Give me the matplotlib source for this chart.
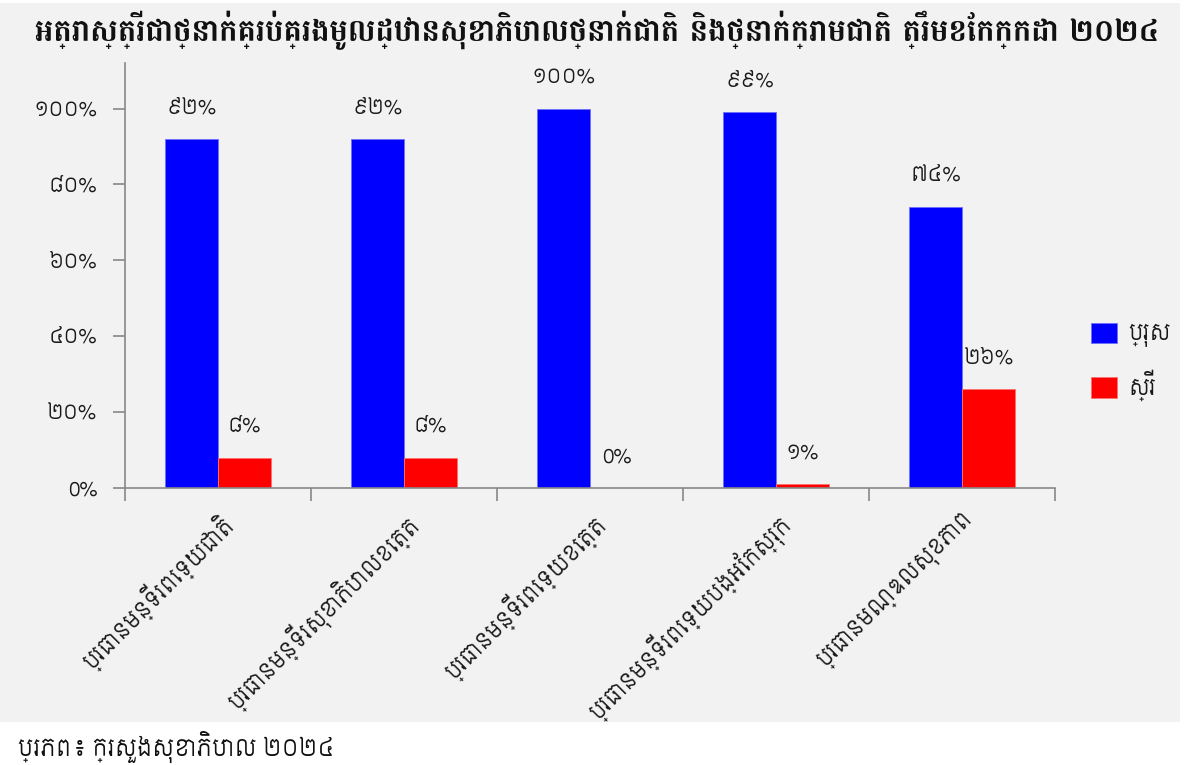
import matplotlib
matplotlib.use("Agg")
import matplotlib.pyplot as plt

# --- data -------------------------------------------------------------
title = "អត្រាស្ត្រីជាថ្នាក់គ្រប់គ្រងមូលដ្ឋានសុខាភិបាលថ្នាក់ជាតិ និងថ្នាក់ក្រោមជាតិ ត្រឹមខែកក្កដា ២០២៤"
categories = [
    "ប្រធានមន្ទីរពេទ្យជាតិ",
    "ប្រធានមន្ទីរសុខាភិបាលខេត្ត",
    "ប្រធានមន្ទីរពេទ្យខេត្ត",
    "ប្រធានមន្ទីរពេទ្យបង្អែកស្រុក",
    "ប្រធានមណ្ឌលសុខភាព",
]
series_names = ["ប្រុស", "ស្រី"]
male = [92, 92, 100, 99, 74]
female = [8, 8, 0, 1, 26]
yticks = [0, 20, 40, 60, 80, 100]
source = "ប្រភព៖ ក្រសួងសុខាភិបាល ២០២៤"

KHMER_DIGITS = "០១២៣៤៥៦៧៨៩"


def khmer_num(n):
    return "".join(KHMER_DIGITS[int(c)] for c in str(n))


def pct_label(n):
    # zero is written with the Latin digit, as in the source document
    return ("0" if n == 0 else khmer_num(n)) + "%"


BODY = ["Siemreap", "DejaVu Sans"]
HEAD = ["Battambang", "DejaVu Sans"]
plt.rcParams["font.family"] = BODY
TXT = "#1a1a1a"

# --- figure -----------------------------------------------------------
W, H = 1184, 765
fig = plt.figure(figsize=(W / 100, H / 100), dpi=100, facecolor="white")

# light grey panel behind everything except the source line
bg = fig.add_axes([0, 1 - 722 / H, 1180 / W, (722 - 3) / H], zorder=-10)
bg.set_facecolor("#f2f2f2")
bg.set_xticks([])
bg.set_yticks([])
for s in bg.spines.values():
    s.set_visible(False)

ax = fig.add_axes([125 / W, 1 - 488 / H, (1055 - 125) / W, (488 - 63) / H])
ax.set_facecolor("none")

x = list(range(len(categories)))
bw = 0.285
b1 = ax.bar([i - bw / 2 for i in x], male, bw, color="#0000ff",
            edgecolor="#6f6fff", linewidth=0.6, label=series_names[0])
b2 = ax.bar([i + bw / 2 for i in x], female, bw, color="#ff0000",
            edgecolor="#ff7070", linewidth=0.6, label=series_names[1])

for bars, vals in ((b1, male), (b2, female)):
    for rect, v in zip(bars, vals):
        ax.annotate(pct_label(v), (rect.get_x() + rect.get_width() / 2, v),
                    xytext=(0, 31), textcoords="offset pixels",
                    ha="center", va="center", fontsize=14.5, color=TXT)

ax.set_xlim(-0.5, len(categories) - 0.5)
ax.set_ylim(0, 112)
ax.set_yticks(yticks)
ax.set_yticklabels([pct_label(v) for v in yticks], fontsize=14.5, color=TXT)

ax.set_xticks(x)
ax.set_xticklabels(categories, rotation=45, ha="right", va="top",
                   rotation_mode="anchor", fontsize=15.5, color=TXT)
ax.set_xticks([i - 0.5 for i in range(len(categories) + 1)], minor=True)
ax.tick_params(axis="x", which="major", length=0, pad=15)
ax.tick_params(axis="x", which="minor", length=9, color="#888888", width=1.2)
ax.tick_params(axis="y", length=9, color="#888888", width=1.2, pad=11)

for s in ("top", "right"):
    ax.spines[s].set_visible(False)
for s in ("left", "bottom"):
    ax.spines[s].set_color("#888888")
    ax.spines[s].set_linewidth(1.2)

ax.legend(loc="center left", bbox_to_anchor=(1072 / W, 1 - 362 / H),
          bbox_transform=fig.transFigure, frameon=False, fontsize=15.5,
          handlelength=1.2, handleheight=1.1, handletextpad=0.5,
          labelspacing=1.05, labelcolor=TXT)

t = fig.text(597 / W, 1 - 30 / H, title, ha="center", va="center",
             fontsize=18, fontweight="bold", family=HEAD, color="#111111")
src = fig.text(18 / W, 1 - 747 / H, source, ha="left", va="center",
               fontsize=15, color="#111111")


def fit_width(txt, target_px):
    r = fig.canvas.get_renderer()
    w = txt.get_window_extent(r).width
    txt.set_fontsize(txt.get_fontsize() * target_px / w)


fit_width(t, 1125)
fit_width(src, 317)

fig.savefig("out.png", dpi=100, facecolor="white")
